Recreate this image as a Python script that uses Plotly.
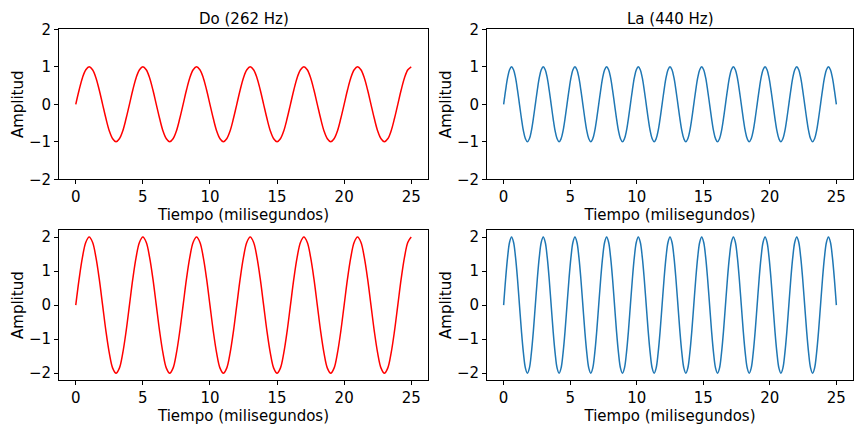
import plotly.graph_objects as go

# Sample points (sixteenth-period steps)
t_do = [0.0, 0.25, 0.5, 0.75, 1.0, 1.25, 1.5, 1.75, 2.0, 2.25, 2.5, 2.75, 3.0, 3.25, 3.5, 3.75,
        4.0, 4.25, 4.5, 4.75, 5.0, 5.25, 5.5, 5.75, 6.0, 6.25, 6.5, 6.75, 7.0, 7.25, 7.5, 7.75,
        8.0, 8.25, 8.5, 8.75, 9.0, 9.25, 9.5, 9.75, 10.0, 10.25, 10.5, 10.75, 11.0, 11.25,
        11.5, 11.75, 12.0, 12.25, 12.5, 12.75, 13.0, 13.25, 13.5, 13.75, 14.0, 14.25, 14.5,
        14.75, 15.0, 15.25, 15.5, 15.75, 16.0, 16.25, 16.5, 16.75, 17.0, 17.25, 17.5, 17.75,
        18.0, 18.25, 18.5, 18.75, 19.0, 19.25, 19.5, 19.75, 20.0, 20.25, 20.5, 20.75, 21.0,
        21.25, 21.5, 21.75, 22.0, 22.25, 22.5, 22.75, 23.0, 23.25, 23.5, 23.75, 24.0, 24.25,
        24.5, 24.75, 25.0]
wave_do_1 = [0, 0.38, 0.71, 0.92, 1, 0.92, 0.71, 0.38, 0, -0.38, -0.71, -0.92, -1, -0.92, -0.71, -0.38]
wave_do_2 = [0, 0.77, 1.41, 1.85, 2, 1.85, 1.41, 0.77, 0, -0.77, -1.41, -1.85, -2, -1.85, -1.41, -0.77]
amp_do_1 = wave_do_1 * 6 + [0, 0.38, 0.71, 0.92, 1]
amp_do_2 = wave_do_2 * 6 + [0, 0.77, 1.41, 1.85, 2]

t_la = [0.0, 0.149, 0.298, 0.446, 0.595, 0.744, 0.893, 1.042, 1.19, 1.339, 1.488, 1.637,
        1.786, 1.935, 2.083, 2.232, 2.381, 2.53, 2.679, 2.827, 2.976, 3.125, 3.274, 3.423,
        3.571, 3.72, 3.869, 4.018, 4.167, 4.315, 4.464, 4.613, 4.762, 4.911, 5.06, 5.208,
        5.357, 5.506, 5.655, 5.804, 5.952, 6.101, 6.25, 6.399, 6.548, 6.696, 6.845, 6.994,
        7.143, 7.292, 7.44, 7.589, 7.738, 7.887, 8.036, 8.185, 8.333, 8.482, 8.631, 8.78,
        8.929, 9.077, 9.226, 9.375, 9.524, 9.673, 9.821, 9.97, 10.119, 10.268, 10.417, 10.565,
        10.714, 10.863, 11.012, 11.161, 11.31, 11.458, 11.607, 11.756, 11.905, 12.054, 12.202,
        12.351, 12.5, 12.649, 12.798, 12.946, 13.095, 13.244, 13.393, 13.542, 13.69, 13.839,
        13.988, 14.137, 14.286, 14.435, 14.583, 14.732, 14.881, 15.03, 15.179, 15.327, 15.476,
        15.625, 15.774, 15.923, 16.071, 16.22, 16.369, 16.518, 16.667, 16.815, 16.964, 17.113,
        17.262, 17.411, 17.56, 17.708, 17.857, 18.006, 18.155, 18.304, 18.452, 18.601, 18.75,
        18.899, 19.048, 19.196, 19.345, 19.494, 19.643, 19.792, 19.94, 20.089, 20.238, 20.387,
        20.536, 20.685, 20.833, 20.982, 21.131, 21.28, 21.429, 21.577, 21.726, 21.875, 22.024,
        22.173, 22.321, 22.47, 22.619, 22.768, 22.917, 23.065, 23.214, 23.363, 23.512, 23.661,
        23.81, 23.958, 24.107, 24.256, 24.405, 24.554, 24.702, 24.851, 25.0]
wave_la_1 = [0, 0.38, 0.71, 0.92, 1, 0.92, 0.71, 0.38, 0, -0.38, -0.71, -0.92, -1, -0.92, -0.71, -0.38]
wave_la_2 = [0, 0.77, 1.41, 1.85, 2, 1.85, 1.41, 0.77, 0, -0.77, -1.41, -1.85, -2, -1.85, -1.41, -0.77]
amp_la_1 = wave_la_1 * 10 + [0, 0.38, 0.71, 0.92, 1, 0.92, 0.71, 0.38, 0]
amp_la_2 = wave_la_2 * 10 + [0, 0.77, 1.41, 1.85, 2, 1.85, 1.41, 0.77, 0]

titles = ["Do (262 Hz)", "La (440 Hz)"]
x_label = "Tiempo (milisegundos)"
y_label = "Amplitud"
x_ticks = [0, 5, 10, 15, 20, 25]
y_ticks = [-2, -1, 0, 1, 2]

RED = "#ff0000"
BLUE = "#1f77b4"
FONT = "DejaVu Sans"

fig = go.Figure()

panels = [
    (t_do, amp_do_1, RED, "x", "y"),
    (t_la, amp_la_1, BLUE, "x2", "y2"),
    (t_do, amp_do_2, RED, "x3", "y3"),
    (t_la, amp_la_2, BLUE, "x4", "y4"),
]
for t, a, c, xa, ya in panels:
    fig.add_trace(go.Scatter(x=t, y=a, mode="lines", xaxis=xa, yaxis=ya,
                             line=dict(color=c, width=1.5, shape="spline", smoothing=1.0),
                             showlegend=False, hoverinfo="skip"))

xdom_l = [59 / 864, 428 / 864]
xdom_r = [487 / 864, 853 / 864]
ydom_t = [1 - 179.3 / 432, 1 - 29.3 / 432]
ydom_b = [1 - 380 / 432, 1 - 230.3 / 432]

common_axis = dict(showline=True, linecolor="black", linewidth=0.8, mirror=True,
                   ticks="outside", ticklen=4, tickwidth=0.8, tickcolor="black",
                   showgrid=False, zeroline=False, automargin=False,
                   tickfont=dict(family=FONT, size=15, color="black"))

def xax(dom, anchor):
    return dict(domain=dom, anchor=anchor, range=[-1.25, 26.25], tickvals=x_ticks,
                title=dict(text=x_label, font=dict(family=FONT, size=15, color="black"), standoff=0),
                **common_axis)

def yax(dom, anchor, rng):
    return dict(domain=dom, anchor=anchor, range=rng, tickvals=y_ticks,
                title=dict(text=y_label, font=dict(family=FONT, size=15, color="black"), standoff=1),
                **common_axis)

fig.update_layout(
    width=864, height=432,
    margin=dict(l=0, r=0, t=0, b=0),
    paper_bgcolor="white", plot_bgcolor="white",
    xaxis=xax(xdom_l, "y"), yaxis=yax(ydom_t, "x", [-2, 2]),
    xaxis2=xax(xdom_r, "y2"), yaxis2=yax(ydom_t, "x2", [-2, 2]),
    xaxis3=xax(xdom_l, "y3"), yaxis3=yax(ydom_b, "x3", [-2.2, 2.2]),
    xaxis4=xax(xdom_r, "y4"), yaxis4=yax(ydom_b, "x4", [-2.2, 2.2]),
)

for i, title in enumerate(titles):
    dom = xdom_l if i == 0 else xdom_r
    fig.add_annotation(text=title, x=(dom[0] + dom[1]) / 2, y=ydom_t[1], xref="paper", yref="paper",
                       xanchor="center", yanchor="bottom", yshift=-1, showarrow=False,
                       font=dict(family=FONT, size=15, color="black"))

fig.write_html("out.html")
